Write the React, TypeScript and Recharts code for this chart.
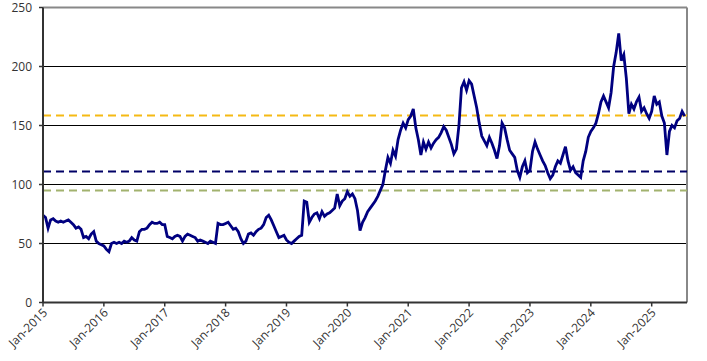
import React from 'react';
import {
    LineChart,
    Line,
    XAxis,
    YAxis,
    CartesianGrid,
    ReferenceLine,
} from 'recharts';

// Semi-monthly closing levels, 24 readings per year (2025 is partial)
const y2015 = [74, 72, 63, 70, 71, 69, 68, 69, 68, 69, 70, 68, 66, 63, 64, 62, 55, 56, 54, 58, 60, 52, 50, 49];
const y2016 = [48, 45, 43, 50, 51, 50, 51, 50, 52, 51, 52, 55, 53, 52, 60, 62, 62, 63, 66, 68, 67, 67, 68, 66];
const y2017 = [66, 56, 55, 54, 56, 57, 56, 52, 56, 58, 57, 56, 55, 52, 53, 52, 51, 50, 52, 51, 50, 67, 66, 66];
const y2018 = [67, 68, 65, 62, 63, 60, 54, 50, 52, 58, 59, 57, 60, 62, 63, 66, 72, 74, 70, 65, 60, 55, 56, 57];
const y2019 = [53, 51, 50, 52, 54, 56, 57, 86, 85, 68, 72, 75, 76, 71, 77, 73, 75, 76, 78, 80, 92, 82, 86, 88];
const y2020 = [94, 90, 92, 88, 78, 61, 68, 72, 77, 80, 83, 86, 90, 95, 100, 112, 123, 118, 129, 124, 138, 146, 152, 148];
const y2021 = [155, 158, 164, 148, 138, 125, 136, 130, 136, 131, 135, 138, 140, 144, 149, 146, 140, 134, 126, 130, 150, 182, 187, 180];
const y2022 = [188, 185, 175, 165, 152, 141, 137, 133, 140, 135, 129, 122, 133, 152, 148, 138, 129, 126, 123, 112, 106, 115, 120, 110];
const y2023 = [112, 128, 136, 130, 125, 120, 116, 110, 105, 108, 115, 120, 118, 125, 132, 120, 112, 115, 110, 108, 106, 120, 128, 140];
const y2024 = [145, 148, 152, 160, 170, 175, 170, 165, 178, 200, 212, 228, 205, 210, 190, 160, 168, 164, 170, 174, 162, 165, 160, 156];
const y2025 = [162, 175, 168, 170, 158, 152, 125, 145, 150, 148, 154, 156, 162, 158];

const years = [2015, 2016, 2017, 2018, 2019, 2020, 2021, 2022, 2023, 2024, 2025];
const series = [y2015, y2016, y2017, y2018, y2019, y2020, y2021, y2022, y2023, y2024, y2025];

// Horizontal reference levels
const upperLevel = 158.5;
const midLevel = 111;
const lowerLevel = 95;

const yTicks = [0, 50, 100, 150, 200, 250];
const xEnd = 2025.58;

const data = series.flatMap((vals, yi) =>
    vals.map((v, i) => ({ t: years[yi] + i / 24, value: v }))
);

const font = '"Open Sans", sans-serif';

const XTick = ({ x, y, payload }: any) => (
    <g transform={`translate(${x + 5},${y + 4})`}>
        <text
            x={0}
            y={0}
            textAnchor="end"
            transform="rotate(-45)"
            fontSize={12}
            fill="#333"
            fontFamily={font}
        >
            {`Jan-${payload.value}`}
        </text>
    </g>
);

export default function App() {
    return (
        <div style={{ position: 'absolute', left: 0, top: 0, background: '#fff' }}>
            <LineChart
                width={707}
                height={361}
                data={data}
                margin={{ top: 7.5, right: 20, left: 0, bottom: 0 }}
            >
                <CartesianGrid vertical={false} stroke="#000" strokeWidth={1} />
                <XAxis
                    dataKey="t"
                    type="number"
                    domain={[2015, xEnd]}
                    ticks={years}
                    interval={0}
                    height={58.5}
                    tickSize={4}
                    tickMargin={3}
                    tick={<XTick />}
                    axisLine={{ stroke: '#333', strokeWidth: 2 }}
                    tickLine={{ stroke: '#333', strokeWidth: 1.5 }}
                    allowDataOverflow
                />
                <YAxis
                    type="number"
                    domain={[0, 250]}
                    ticks={yTicks}
                    width={43}
                    tickSize={4}
                    tickMargin={7}
                    tick={{ fontSize: 12, fill: '#333', fontFamily: font }}
                    axisLine={{ stroke: '#333', strokeWidth: 2 }}
                    tickLine={{ stroke: '#333', strokeWidth: 1.5 }}
                />
                <ReferenceLine y={250} stroke="#888" strokeWidth={2} />
                <ReferenceLine x={xEnd} stroke="#888" strokeWidth={2} />
                <ReferenceLine y={upperLevel} stroke="#F5BA14" strokeWidth={2} strokeDasharray="8 5" />
                <ReferenceLine y={midLevel} stroke="#000066" strokeWidth={2} strokeDasharray="8 5" />
                <ReferenceLine y={lowerLevel} stroke="#A2B26E" strokeWidth={2} strokeDasharray="8 5" />
                <Line
                    type="linear"
                    dataKey="value"
                    stroke="#000080"
                    strokeWidth={2.8}
                    dot={false}
                    isAnimationActive={false}
                />
            </LineChart>
        </div>
    );
}
